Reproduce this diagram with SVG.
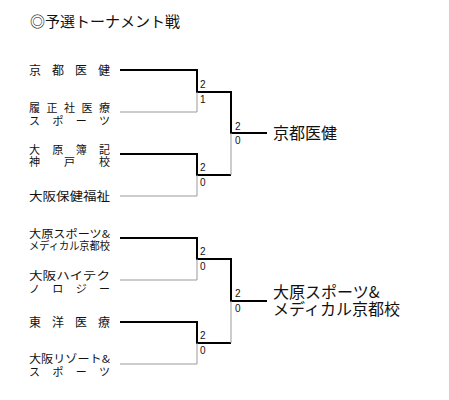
<svg xmlns="http://www.w3.org/2000/svg" width="449" height="400" viewBox="0 0 449 400">
<style>
text{font-family:"Noto Sans CJK JP","Liberation Sans",sans-serif;fill:#111}
.t{font-size:15px}
.n{font-size:12px}
.s{font-size:11px}
.sc{font-family:"Liberation Sans",sans-serif;font-size:10px}
.w{font-size:16px}
.b{fill:none;stroke:#000;stroke-width:2}
.g{fill:none;stroke:#999;stroke-width:1}
</style>
<rect width="449" height="400" fill="#fff"/>
<text class="t" x="30" y="27">◎予選トーナメント戦</text>
<g id="connectors">
<path class="b" d="M120,70H197V92H231V133H267"/>
<path class="g" d="M120,112H197V92"/>
<path class="b" d="M120,154H197V175H231"/>
<path class="g" d="M120,196H197V175"/>
<path class="g" d="M231,133V175"/>
<path class="b" d="M120,238H197V259H231V301H267"/>
<path class="g" d="M120,280H197V259"/>
<path class="b" d="M120,322H197V343H231"/>
<path class="g" d="M120,364H197V343"/>
<path class="g" d="M231,301V343"/>
</g>
<g id="scores">
<text class="sc" x="200" y="88">2</text><text class="sc" x="200" y="103">1</text>
<text class="sc" x="200" y="171">2</text><text class="sc" x="200" y="186">0</text>
<text class="sc" x="235" y="130">2</text><text class="sc" x="235" y="144">0</text>
<text class="sc" x="200" y="255">2</text><text class="sc" x="200" y="270">0</text>
<text class="sc" x="200" y="339">2</text><text class="sc" x="200" y="354">0</text>
<text class="sc" x="235" y="297">2</text><text class="sc" x="235" y="312">0</text>
</g>
<g id="n1"><text class="n" x="29" y="75" textLength="81" lengthAdjust="spacing">京都医健</text></g>
<g id="n2"><text class="s" x="29" y="112" textLength="81" lengthAdjust="spacing">履正社医療</text><text class="s" x="29" y="125" textLength="81" lengthAdjust="spacing">スポーツ</text></g>
<g id="n3"><text class="s" x="29" y="154" textLength="81" lengthAdjust="spacing">大原簿記</text><text class="s" x="29" y="166" textLength="81" lengthAdjust="spacing">神戸校</text></g>
<g id="n4"><text class="n" x="29" y="201" textLength="81" lengthAdjust="spacingAndGlyphs">大阪保健福祉</text></g>
<g id="n5"><text class="s" x="29" y="238" textLength="81" lengthAdjust="spacingAndGlyphs">大原スポーツ&amp;</text><text class="s" x="29" y="250" textLength="81" lengthAdjust="spacingAndGlyphs">メディカル京都校</text></g>
<g id="n6"><text class="s" x="29" y="280" textLength="81" lengthAdjust="spacingAndGlyphs">大阪ハイテク</text><text class="s" x="29" y="293" textLength="81" lengthAdjust="spacing">ノロジー</text></g>
<g id="n7"><text class="n" x="29" y="327" textLength="81" lengthAdjust="spacing">東洋医療</text></g>
<g id="n8"><text class="s" x="29" y="363" textLength="81" lengthAdjust="spacingAndGlyphs">大阪リゾート&amp;</text><text class="s" x="29" y="376" textLength="81" lengthAdjust="spacing">スポーツ</text></g>
<g id="w1"><text class="w" x="273" y="139">京都医健</text></g>
<g id="w2"><text class="w" x="273" y="298">大原スポーツ&amp;</text><text class="w" x="273" y="315">メディカル京都校</text></g>
</svg>
